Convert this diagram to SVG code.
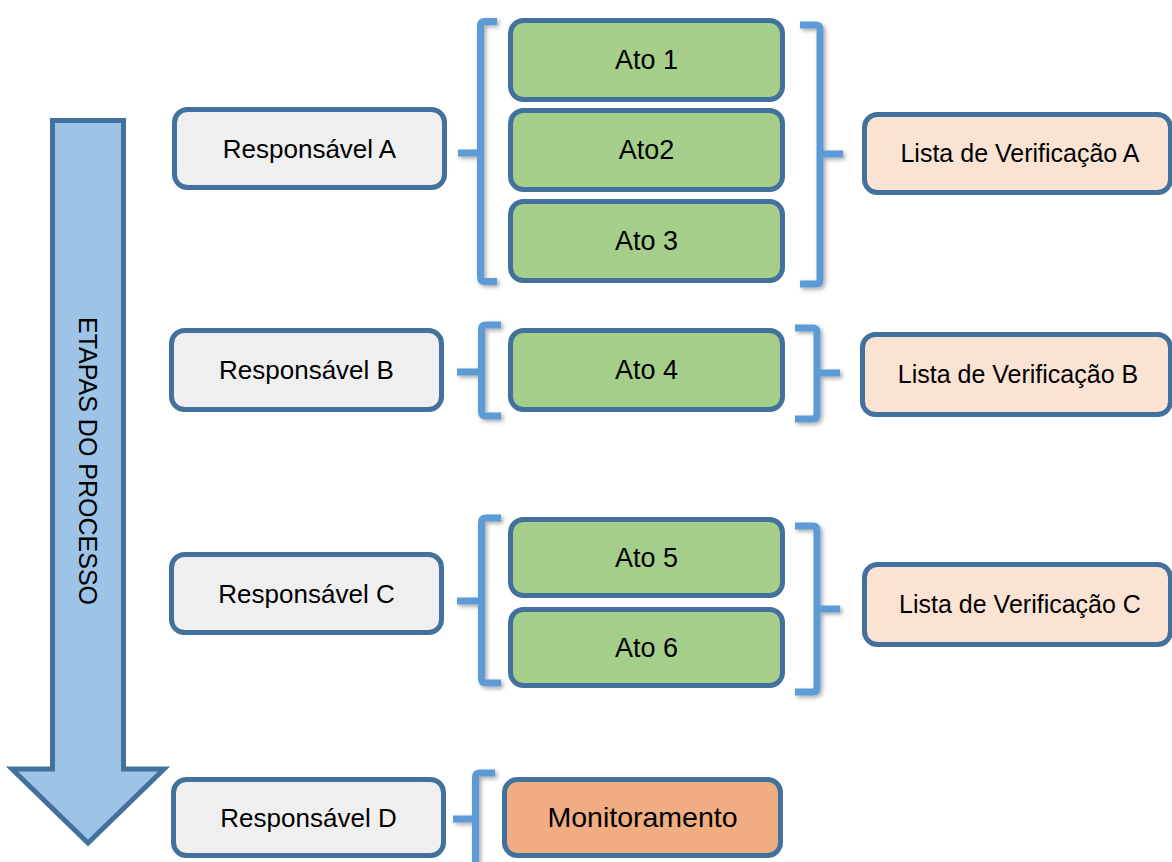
<svg xmlns="http://www.w3.org/2000/svg" width="1172" height="862" viewBox="0 0 1172 862">
<defs>
<filter id="sh" x="-50%" y="-10%" width="200%" height="120%">
<feDropShadow dx="2" dy="2" stdDeviation="2" flood-color="#000" flood-opacity="0.35"/>
</filter>
<style>
.box{stroke:#41719C;stroke-width:5}
.resp{fill:#EFEFEF}
.ato{fill:#A6CE8B}
.lista{fill:#FBE3D4}
.mon{fill:#EFAD81}
.br{fill:none;stroke:#5B9BD5;stroke-width:7;stroke-linejoin:round;stroke-linecap:butt;filter:url(#sh)}
text{font-family:"Liberation Sans",Arial,sans-serif;font-size:26px;fill:#000;text-anchor:middle;dominant-baseline:central}
.lt{font-size:25px}
.at{font-size:27px}
.mt{font-size:28.5px}
</style>
</defs>
<rect width="1172" height="862" fill="#fff"/>

<g id="arrow">
<path d="M52.5,120.5 H123.5 V769 H164 L88,843 L12,769 H52.5 Z" fill="#9DC3E6" stroke="#41719C" stroke-width="5" stroke-linejoin="miter"/>
<text transform="translate(88,461) rotate(90)" style="font-size:25px">ETAPAS DO PROCESSO</text>
</g>

<g id="connectors">
<path class="br" d="M497,21.5 H485 Q480.5,21.5 480.5,26 V277 Q480.5,281.5 485,281.5 H497 M480.5,153 H458"/>
<path class="br" d="M800,25 H815.5 Q820,25 820,29.5 V279.5 Q820,284 815.5,284 H800 M820,154 H843"/>
<path class="br" d="M501,325 H486 Q481.5,325 481.5,329.5 V411.5 Q481.5,416 486,416 H501 M481.5,372 H457"/>
<path class="br" d="M795,328 H812.5 Q817,328 817,332.5 V414.5 Q817,419 812.5,419 H795 M817,373 H840"/>
<path class="br" d="M501,518 H486 Q481.5,518 481.5,522.5 V678.5 Q481.5,683 486,683 H501 M481.5,601 H457"/>
<path class="br" d="M795,526 H812.5 Q817,526 817,530.5 V687.5 Q817,692 812.5,692 H795 M817,609 H840"/>
<path class="br" d="M495,773 H480 Q475.5,773 475.5,777.5 V870 M475.5,819 H453"/>
</g>

<g id="respA"><rect class="box resp" x="174.5" y="109.5" width="270" height="78" rx="13"/><text x="309.5" y="148.5">Responsável A</text></g>
<g id="respB"><rect class="box resp" x="171.5" y="330.5" width="270" height="79" rx="13"/><text x="306.5" y="370">Responsável B</text></g>
<g id="respC"><rect class="box resp" x="171.5" y="554.5" width="270" height="78" rx="13"/><text x="306.5" y="593.5">Responsável C</text></g>
<g id="respD"><rect class="box resp" x="173.5" y="779.5" width="270" height="76" rx="13"/><text x="308.5" y="817.5">Responsável D</text></g>

<g id="ato1"><rect class="box ato" x="510.5" y="20.5" width="272" height="79" rx="13"/><text class="at" x="646.5" y="60">Ato 1</text></g>
<g id="ato2"><rect class="box ato" x="510.5" y="110.5" width="272" height="79" rx="13"/><text class="at" x="646.5" y="150">Ato2</text></g>
<g id="ato3"><rect class="box ato" x="510.5" y="201.5" width="272" height="79" rx="13"/><text class="at" x="646.5" y="241">Ato 3</text></g>
<g id="ato4"><rect class="box ato" x="510.5" y="330.5" width="272" height="79" rx="13"/><text class="at" x="646.5" y="370">Ato 4</text></g>
<g id="ato5"><rect class="box ato" x="510.5" y="519.5" width="272" height="76" rx="13"/><text class="at" x="646.5" y="557.5">Ato 5</text></g>
<g id="ato6"><rect class="box ato" x="510.5" y="609.5" width="272" height="76" rx="13"/><text class="at" x="646.5" y="647.5">Ato 6</text></g>
<g id="mon"><rect class="box mon" x="504.5" y="779.5" width="276" height="76" rx="13"/><text class="mt" x="642.5" y="817">Monitoramento</text></g>

<g id="listaA"><rect class="box lista" x="864.5" y="114.5" width="306" height="78" rx="13"/><text class="lt" x="1020" y="152.5">Lista de Verificação A</text></g>
<g id="listaB"><rect class="box lista" x="862.5" y="334.5" width="308" height="80" rx="13"/><text class="lt" x="1018" y="373.5">Lista de Verificação B</text></g>
<g id="listaC"><rect class="box lista" x="864.5" y="564.5" width="306" height="80" rx="13"/><text class="lt" x="1020" y="603.5">Lista de Verificação C</text></g>
</svg>
